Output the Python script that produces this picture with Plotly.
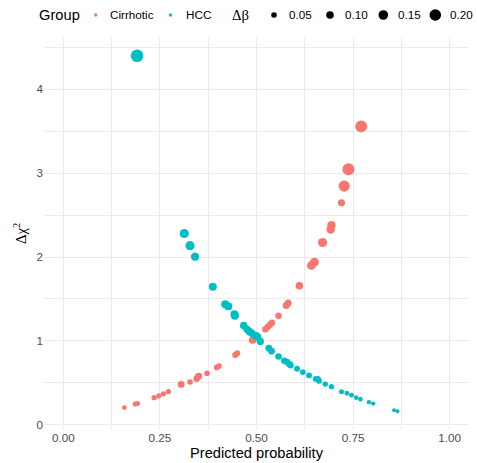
import plotly.graph_objects as go

# ---------------- data ----------------
cirr_p = [0.158, 0.186, 0.192, 0.235, 0.247, 0.259, 0.272, 0.305, 0.328, 0.345, 0.349, 0.351,
          0.372, 0.397, 0.403, 0.445, 0.450, 0.490, 0.523, 0.529, 0.535, 0.540, 0.557, 0.577,
          0.582, 0.611, 0.642, 0.650, 0.671, 0.692, 0.694, 0.720, 0.727, 0.738, 0.771]
cirr_chi = [0.206, 0.250, 0.254, 0.325, 0.346, 0.371, 0.396, 0.482, 0.512, 0.550, 0.577, 0.583,
            0.615, 0.685, 0.702, 0.833, 0.855, 1.012, 1.139, 1.167, 1.194, 1.217, 1.301, 1.423,
            1.452, 1.657, 1.899, 1.940, 2.173, 2.327, 2.379, 2.646, 2.845, 3.044, 3.556]
cirr_db = [0.030, 0.035, 0.035, 0.040, 0.040, 0.040, 0.040, 0.080, 0.050, 0.070, 0.070, 0.070,
           0.050, 0.050, 0.050, 0.060, 0.060, 0.100, 0.070, 0.070, 0.070, 0.070, 0.070, 0.085,
           0.085, 0.100, 0.130, 0.130, 0.140, 0.120, 0.120, 0.090, 0.190, 0.210, 0.210]

hcc_p = [0.191, 0.313, 0.328, 0.341, 0.387, 0.419, 0.427, 0.443, 0.444, 0.467, 0.476, 0.482,
         0.488, 0.499, 0.503, 0.510, 0.532, 0.539, 0.557, 0.572, 0.579, 0.585, 0.588, 0.605,
         0.620, 0.636, 0.653, 0.659, 0.662, 0.678, 0.694, 0.720, 0.734, 0.746, 0.758, 0.769,
         0.791, 0.802, 0.856, 0.865]
hcc_chi = [4.397, 2.280, 2.135, 2.004, 1.646, 1.436, 1.413, 1.318, 1.301, 1.183, 1.137, 1.111,
           1.092, 1.060, 1.048, 0.994, 0.913, 0.879, 0.815, 0.765, 0.750, 0.726, 0.711, 0.670,
           0.629, 0.589, 0.548, 0.548, 0.524, 0.486, 0.456, 0.396, 0.377, 0.354, 0.325, 0.307,
           0.271, 0.254, 0.176, 0.163]
hcc_db = [0.225, 0.140, 0.140, 0.120, 0.110, 0.110, 0.110, 0.110, 0.110, 0.100, 0.100, 0.100,
          0.100, 0.100, 0.100, 0.090, 0.080, 0.080, 0.075, 0.070, 0.070, 0.070, 0.070, 0.060,
          0.055, 0.055, 0.050, 0.050, 0.050, 0.045, 0.045, 0.035, 0.030, 0.030, 0.025, 0.025,
          0.020, 0.020, 0.010, 0.010]

groups = ["Cirrhotic", "HCC"]
size_breaks = [0.05, 0.10, 0.15, 0.20]
size_labels = ["0.05", "0.10", "0.15", "0.20"]
x_ticks = [0, 0.25, 0.5, 0.75, 1.0]
x_ticklabels = ["0.00", "0.25", "0.50", "0.75", "1.00"]
y_ticks = [0, 1, 2, 3, 4]

# ---------------- style ----------------
COLORS = {"Cirrhotic": "#F8766D", "HCC": "#00BFC4"}
W, H = 477, 463
ML, MR, MT, MB = 44, 8, 38, 34
FONT = "Liberation Sans, Arial, sans-serif"
SERIF = "Liberation Serif, DejaVu Serif, serif"


def size_px(v):
    return 3.6 + 40.0 * v


fig = go.Figure()
for name, xs, ys, dbs in [("Cirrhotic", cirr_p, cirr_chi, cirr_db), ("HCC", hcc_p, hcc_chi, hcc_db)]:
    fig.add_trace(go.Scatter(
        x=xs, y=ys, mode="markers", name=name, showlegend=False,
        marker=dict(color=COLORS[name], size=[size_px(v) for v in dbs], line=dict(width=0), opacity=1),
    ))

all_y = cirr_chi + hcc_chi
span = max(all_y) - min(all_y)
yr = [min(all_y) - 0.05 * span, max(all_y) + 0.05 * span]

GRID = "#EBEBEB"
fig.update_layout(
    width=W, height=H,
    margin=dict(l=ML, r=MR, t=MT, b=MB, pad=0),
    paper_bgcolor="white", plot_bgcolor="white",
    font=dict(family=FONT, color="black"),
    showlegend=False,
    xaxis=dict(range=[-0.05, 1.05], tickvals=x_ticks, ticktext=x_ticklabels,
               showgrid=True, gridcolor=GRID, gridwidth=1.1, zeroline=False, showline=False,
               ticks="", tickfont=dict(size=11.7, color="#4D4D4D", family=FONT),
               minor=dict(tickvals=[0.125, 0.375, 0.625, 0.875], showgrid=True, gridcolor=GRID, gridwidth=0.55),
               title=dict(text="Predicted probability", font=dict(size=14.7, family=FONT), standoff=5),
               fixedrange=True, automargin=False),
    yaxis=dict(range=yr, tickvals=y_ticks,
               showgrid=True, gridcolor=GRID, gridwidth=1.1, zeroline=False, showline=False,
               ticks="", tickfont=dict(size=11.7, color="#4D4D4D", family=FONT),
               minor=dict(tickvals=[0.5, 1.5, 2.5, 3.5, 4.5], showgrid=True, gridcolor=GRID, gridwidth=0.55),
               title=dict(text="Δχ<sup>2</sup>", font=dict(size=14.7, family=SERIF), standoff=6),
               fixedrange=True, automargin=False),
)

# ---------------- legend (drawn with text + circles at top) ----------------
PW, PH = W - ML - MR, H - MT - MB


def px2x(px):
    return (px - ML) / PW


def py2y(py):
    return (H - MB - py) / PH


LEG_Y = 15


def add_text(txt, px, size, family=FONT):
    fig.add_annotation(x=px2x(px), y=py2y(LEG_Y), xref="paper", yref="paper", text=txt,
                       showarrow=False, xanchor="left", yanchor="middle", borderpad=0,
                       font=dict(size=size, family=family, color="black"))


def add_dot(px, d, color):
    r = d / 2.0
    fig.add_shape(type="circle", xref="paper", yref="paper", xsizemode="pixel", ysizemode="pixel",
                  xanchor=px2x(px), yanchor=py2y(LEG_Y), x0=-r, x1=r, y0=-r, y1=r,
                  fillcolor=color, line=dict(width=0))


add_text("Group", 38, 14.7)
group_dot_x = [95.7, 170.5]
group_txt_x = [108.5, 184.5]
for g, dx, tx in zip(groups, group_dot_x, group_txt_x):
    add_dot(dx, 3.3, COLORS[g])
    add_text(g, tx, 11.7)

add_text("Δβ", 231, 14.7, SERIF)
size_dot_x = [274, 330, 383.3, 435.3]
size_txt_x = [288, 344, 397, 449]
for v, lab, dx, tx in zip(size_breaks, size_labels, size_dot_x, size_txt_x):
    add_dot(dx, size_px(v), "black")
    add_text(lab, tx, 11.7)

fig.write_html("out.html", config={"displayModeBar": False},
               post_script="document.body.style.margin='0';document.body.style.padding='0';")
